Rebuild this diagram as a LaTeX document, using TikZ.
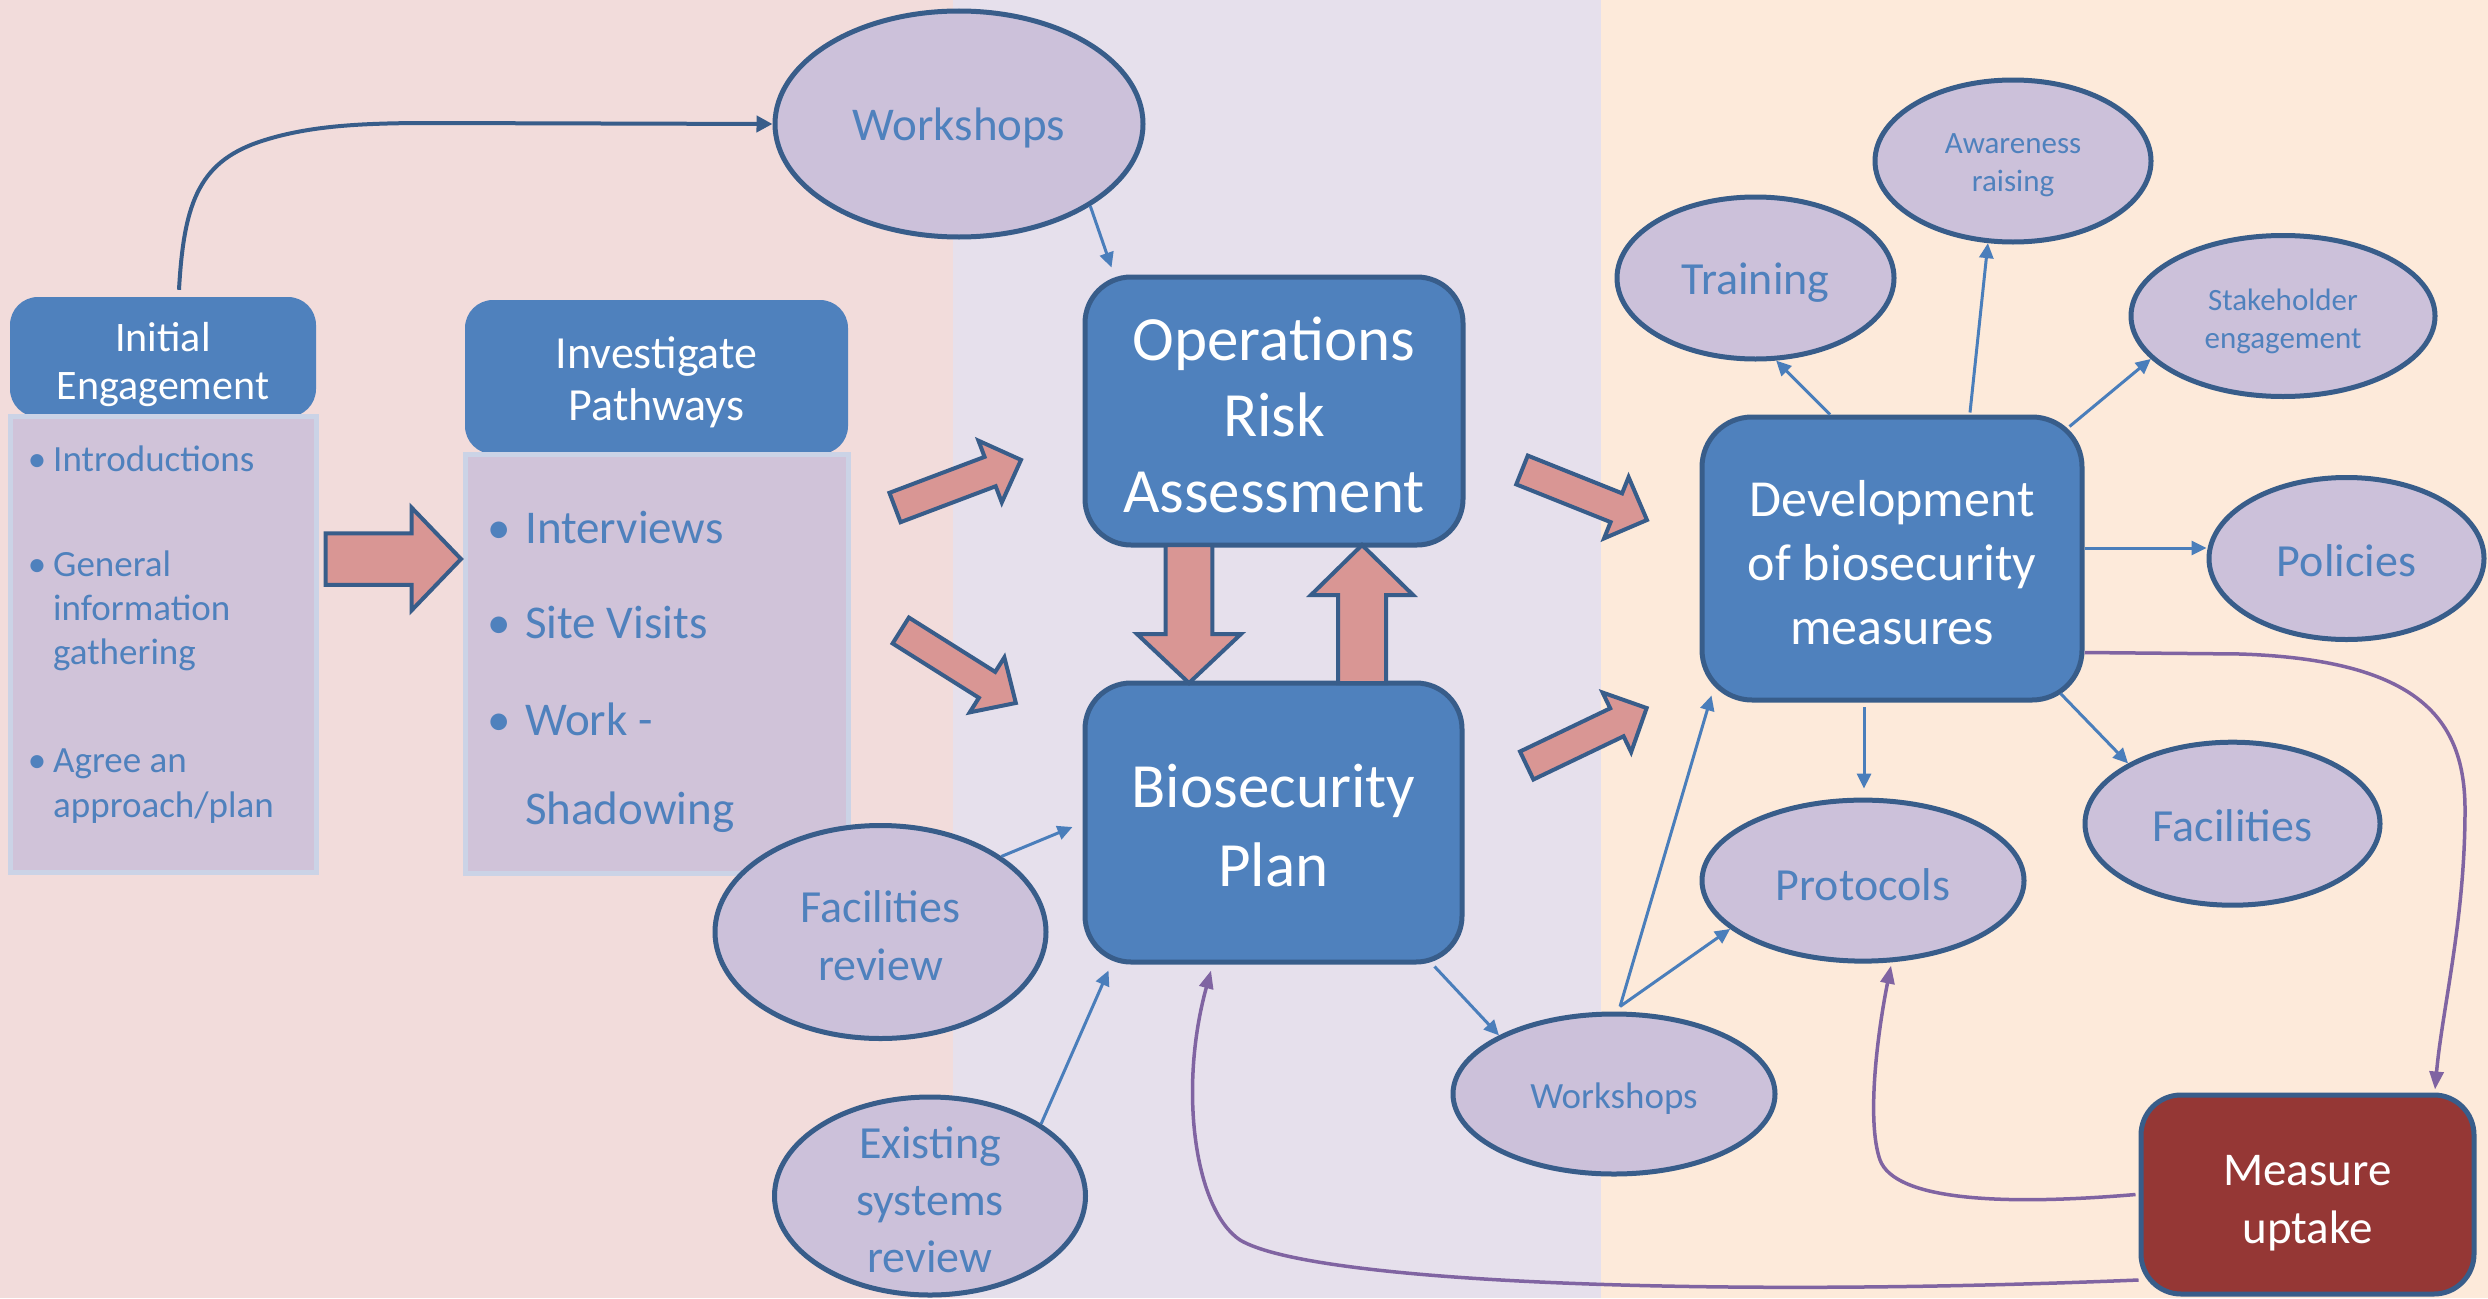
\documentclass[tikz,border=0pt]{standalone}
\usepackage{fontspec}
\setmainfont{Carlito}
\usetikzlibrary{shapes.geometric,arrows.meta,calc}
\definecolor{bandpink}{HTML}{F2DCDB}
\definecolor{bandlav}{HTML}{E6E0EC}
\definecolor{bandpeach}{HTML}{FDEADA}
\definecolor{boxblue}{HTML}{4F81BD}
\definecolor{borderblue}{HTML}{385D8A}
\definecolor{ellfill}{HTML}{CCC1DA}
\definecolor{bodyfill}{HTML}{D0C3D9}
\definecolor{bodyborder}{HTML}{CBD3E6}
\definecolor{textblue}{HTML}{4F81BD}
\definecolor{arrowfill}{HTML}{D99694}
\definecolor{connblue}{HTML}{4A7EBB}
\definecolor{purpcol}{HTML}{8064A2}
\definecolor{darkred}{HTML}{953735}
\tikzset{
 hdr/.style={fill=boxblue, draw=none, rounded corners=28pt, inner sep=0pt},
 bigbox/.style={fill=boxblue, draw=borderblue, line width=5pt, rounded corners=46pt, inner sep=0pt},
 boxtext/.style={text=white, align=center, inner sep=0pt},
 bodybox/.style={fill=bodyfill, draw=bodyborder, line width=5pt, inner sep=0pt},
 ell/.style={ellipse, fill=ellfill, draw=borderblue, line width=5pt, inner sep=0pt},
 elltext/.style={text=textblue, align=center, inner sep=0pt},
 btext/.style={text=textblue, inner sep=0pt, anchor=base west},
 bullet/.style={text=textblue, inner sep=0pt, anchor=base},
 conn/.style={draw=connblue, line width=3pt, -{Triangle[length=15pt,width=14pt]}},
 navyconn/.style={draw=borderblue, line width=4pt, -{Triangle[length=16pt,width=16pt]}},
 purpconn/.style={draw=purpcol, line width=3.5pt, -{Triangle[length=18pt,width=14pt]}},
 blockarr/.style={fill=arrowfill, draw=borderblue, line width=4pt, line join=miter}
}
% tail x, tail y, angle, length, shaft half width, head half width, head length
\newcommand\blkarrow[7]{\begin{scope}[shift={(#1,#2)},rotate=#3]
\filldraw[blockarr] (0,#5) -- ({#4-#7},#5) -- ({#4-#7},#6) -- (#4,0) -- ({#4-#7},-#6) -- ({#4-#7},-#5) -- (0,-#5) -- cycle;
\end{scope}}
\begin{document}
\begin{tikzpicture}[x=1pt,y=-1pt]
\useasboundingbox (0,0) rectangle (2488,1298);
% background bands
\fill[bandpink] (0,0) rectangle (953,1298);
\fill[bandlav] (953,0) rectangle (1601,1298);
\fill[bandpeach] (1601,0) rectangle (2488,1298);

% Initial Engagement
\node[hdr, minimum width=306pt, minimum height=120pt] (ieh) at (163,357) {};
\node[boxtext, font=\fontsize{42}{48}\selectfont] (ieht) at ([yshift=-8pt]ieh.center) {Initial\\Engagement};
\node[bodybox, minimum width=306pt, minimum height=456pt] (ieb) at (163,644) {};
\begin{scope}[font=\fontsize{37}{44}\selectfont]
\node[bullet] (ieb1) at (37,471) {•};
\node[btext] (iet1) at (53,471) {Introductions};
\node[bullet] (ieb2) at (37,576) {•};
\node[btext] (iet2) at (53,576) {General};
\node[btext] (iet3) at (53,620) {information};
\node[btext] (iet4) at (53,664) {gathering};
\node[bullet] (ieb3) at (37,772) {•};
\node[btext] (iet5) at (53,772) {Agree an};
\node[btext] (iet6) at (53,817) {approach/plan};
\end{scope}

% Investigate Pathways
\node[hdr, minimum width=383pt, minimum height=154pt] (iph) at (656.5,377) {};
\node[boxtext, font=\fontsize{46}{52}\selectfont] (ipht) at ([yshift=-5pt]iph.center) {Investigate\\Pathways};
\node[bodybox, minimum width=383pt, minimum height=419pt] (ipb) at (656.5,663.5) {};
\begin{scope}[font=\fontsize{47}{56}\selectfont]
\node[bullet] (ipb1) at (499,543) {•};
\node[btext] (ipt1) at (525,543) {Interviews};
\node[bullet] (ipb2) at (499,638) {•};
\node[btext] (ipt2) at (525,638) {Site Visits};
\node[bullet] (ipb3) at (499,735) {•};
\node[btext] (ipt3) at (525,735) {Work -};
\node[btext] (ipt4) at (525,824) {Shadowing};
\end{scope}

% main boxes
\node[bigbox, minimum width=378pt, minimum height=268pt] (ora) at (1274,411) {};
\node[boxtext, font=\fontsize{63}{76}\selectfont] (orat) at ([yshift=-4pt]ora.center) {Operations\\Risk\\Assessment};
\node[bigbox, minimum width=377pt, minimum height=279pt] (bp) at (1273.5,822.5) {};
\node[boxtext, font=\fontsize{63}{79}\selectfont] (bpt) at ([yshift=-3pt]bp.center) {Biosecurity\\Plan};
\node[bigbox, rounded corners=50pt, minimum width=380pt, minimum height=283pt] (dev) at (1892,558.5) {};
\node[boxtext, font=\fontsize{52}{64}\selectfont] (devt) at ([yshift=-4pt]dev.center) {Development\\of biosecurity\\measures};
\node[bigbox, fill=darkred, rounded corners=40pt, minimum width=333pt, minimum height=199pt] (mu) at (2307.5,1194.5) {};
\node[boxtext, font=\fontsize{47}{58}\selectfont] (mut) at ([yshift=-9pt]mu.center) {Measure\\uptake};

% block arrows
\blkarrow{325.5}{559}{0}{135.5}{25.75}{51.5}{49.5}
\blkarrow{895}{507.5}{20.7}{134.7}{15.7}{33}{33}
\blkarrow{900.75}{630.5}{-32.2}{136}{15.3}{32.5}{34}
\blkarrow{1522}{470}{-21.8}{134.6}{15.5}{33}{33}
\blkarrow{1526.7}{765.5}{25.6}{133}{15.5}{33}{33}
\blkarrow{1189}{545}{-90}{138}{23.3}{52}{49}
\blkarrow{1362}{683}{90}{138}{24}{51}{50}

% ellipses
\node[ell, minimum width=368pt, minimum height=226pt] (ws1) at (959,124) {};
\node[elltext, font=\fontsize{47}{56}\selectfont] (ws1t) at ([yshift=-4pt]ws1.center) {Workshops};
\node[ell, minimum width=331pt, minimum height=213pt] (fr) at (880.5,932) {};
\node[elltext, font=\fontsize{46}{58}\selectfont] (frt) at ([yshift=-4pt]fr.center) {Facilities\\review};
\node[ell, minimum width=311pt, minimum height=198pt] (esr) at (930,1196) {};
\node[elltext, font=\fontsize{46}{57}\selectfont] (esrt) at ([yshift=-4pt]esr.center) {Existing\\systems\\review};
\node[ell, minimum width=322pt, minimum height=160pt] (ws2) at (1614,1094) {};
\node[elltext, font=\fontsize{37}{44}\selectfont] (ws2t) at ([yshift=-5pt]ws2.center) {Workshops};
\node[ell, minimum width=277pt, minimum height=162pt] (train) at (1755.5,278) {};
\node[elltext, font=\fontsize{46}{56}\selectfont] (traint) at ([yshift=-5pt]train.center) {Training};
\node[ell, minimum width=276pt, minimum height=162pt] (aware) at (2013,161) {};
\node[elltext, font=\fontsize{31}{38}\selectfont] (awaret) at ([yshift=-4pt]aware.center) {Awareness\\raising};
\node[ell, minimum width=304pt, minimum height=161pt] (stake) at (2283,316) {};
\node[elltext, font=\fontsize{31}{38}\selectfont] (staket) at ([yshift=-5pt]stake.center) {Stakeholder\\engagement};
\node[ell, minimum width=275pt, minimum height=162pt] (pol) at (2346.5,558.5) {};
\node[elltext, font=\fontsize{46}{56}\selectfont] (polt) at ([yshift=-2pt]pol.center) {Policies};
\node[ell, minimum width=322pt, minimum height=161pt] (prot) at (1863,880.6) {};
\node[elltext, font=\fontsize{46}{56}\selectfont] (prott) at ([yshift=-4pt]prot.center) {Protocols};
\node[ell, minimum width=295pt, minimum height=163pt] (fac) at (2232.5,823.7) {};
\node[elltext, font=\fontsize{46}{56}\selectfont] (fact) at ([yshift=-2pt]fac.center) {Facilities};

% connectors
\draw[navyconn] ([xshift=16pt,yshift=7pt]ieh.north) .. controls (184,200) and (200,160) .. (265,140) .. controls (310,126) and (360,123) .. (430,123) -- (ws1.west);
\draw[conn] (ws1.-32) -- ([xshift=29pt,yshift=7pt]ora.north west);
\draw[conn] (fr.32) -- ([xshift=-10pt,yshift=-4.5pt]bp.west);
\draw[conn] (esr.33) -- ([xshift=26pt,yshift=-6pt]bp.south west);
\draw[conn] ([xshift=-30pt,yshift=-2pt]bp.south east) -- (ws2.153);
\draw[conn] ([xshift=6pt,yshift=5pt]ws2.north) -- ([xshift=12pt,yshift=7pt]dev.south west);
\draw[conn] ([xshift=6pt,yshift=5pt]ws2.north) -- (prot.200);
\draw[conn] ([xshift=-62pt]dev.north) -- (train.-76);
\draw[conn] ([xshift=78pt,yshift=2pt]dev.north) -- (aware.-107);
\draw[conn] ([xshift=-15pt,yshift=-12pt]dev.north east) -- (stake.198);
\draw[conn] ([yshift=10.5pt]dev.east) -- ([yshift=10.5pt]pol.west);
\draw[conn] ([xshift=-28pt,yshift=-4.6pt]dev.south) -- ([xshift=1pt,yshift=9pt]prot.north);
\draw[conn] ([xshift=-24pt,yshift=9pt]dev.south east) -- (fac.150);

\draw[purpconn] ([yshift=-85.5pt]mu.west) .. controls (1700,1298) and (1310,1282) .. (1240,1240) .. controls (1195,1210) and (1178,1090) .. ([xshift=-62.5pt,yshift=-6pt]bp.south);
\draw[purpconn] ([yshift=-94pt]dev.east) -- (2240,654) .. controls (2420,660) and (2465,720) .. (2465,810) .. controls (2465,920) and (2442,1010) .. ([xshift=127.5pt,yshift=3pt]mu.north);
\draw[purpconn] ([xshift=-3pt]mu.west) .. controls (2000,1206) and (1895,1200) .. (1880,1160) .. controls (1866,1120) and (1878,1030) .. ([xshift=28pt,yshift=-2pt]prot.south);
\end{tikzpicture}
\end{document}
